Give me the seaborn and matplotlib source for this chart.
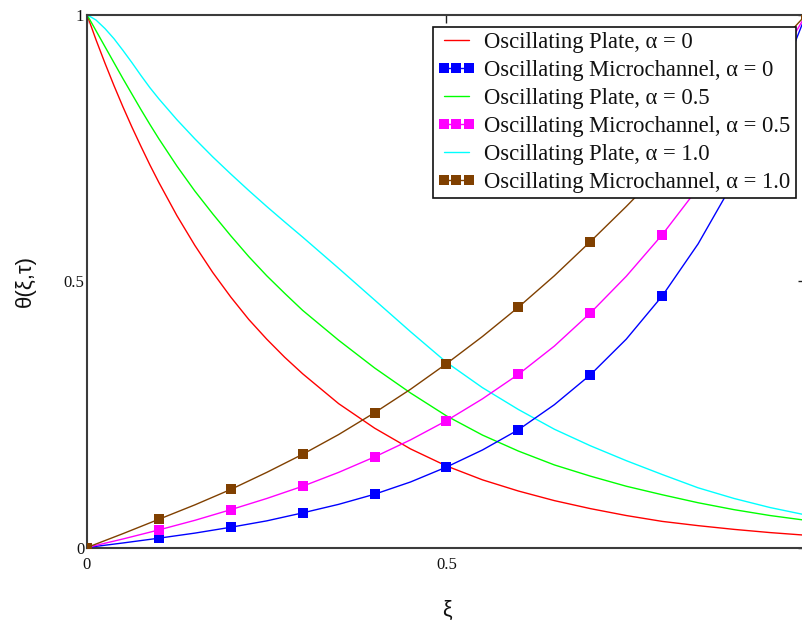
import numpy as np
import pandas as pd
import matplotlib
matplotlib.use("Agg")
import matplotlib.pyplot as plt
from matplotlib.lines import Line2D
from matplotlib.legend_handler import HandlerLine2D
import seaborn as sns

# ---------------- data ----------------
xi_plate = [0.0, 0.0125, 0.025, 0.0375, 0.05, 0.0625, 0.075, 0.0875, 0.1, 0.125,
            0.15, 0.175, 0.2, 0.225, 0.25, 0.275, 0.3, 0.35, 0.4, 0.45,
            0.5, 0.55, 0.6, 0.65, 0.7, 0.75, 0.8, 0.85, 0.9, 0.95, 1.0]
plate_a0 = [1.0, 0.953, 0.909, 0.867, 0.827, 0.789, 0.753, 0.718, 0.685, 0.623,
            0.567, 0.516, 0.470, 0.428, 0.391, 0.357, 0.326, 0.270, 0.224, 0.185,
            0.153, 0.127, 0.106, 0.088, 0.073, 0.060, 0.049, 0.041, 0.034, 0.028, 0.023]
plate_a05 = [1.0, 0.970, 0.940, 0.910, 0.880, 0.851, 0.822, 0.794, 0.767, 0.716,
             0.669, 0.626, 0.585, 0.546, 0.510, 0.477, 0.445, 0.389, 0.337, 0.290,
             0.247, 0.211, 0.181, 0.155, 0.134, 0.115, 0.099, 0.084, 0.071, 0.060, 0.051]
plate_a10 = [1.0, 0.990, 0.974, 0.955, 0.933, 0.910, 0.886, 0.863, 0.842, 0.803,
             0.767, 0.733, 0.701, 0.670, 0.640, 0.611, 0.5825, 0.524, 0.4645, 0.405,
             0.3475, 0.300, 0.259, 0.222, 0.191, 0.163, 0.137, 0.112, 0.092, 0.075, 0.061]

xi_micro = [0.0, 0.05, 0.1, 0.15, 0.2, 0.25, 0.3, 0.35, 0.4, 0.45, 0.5, 0.55,
            0.6, 0.65, 0.7, 0.75, 0.8, 0.85, 0.9, 0.95, 1.0]
micro_a0 = [0.0, 0.0085, 0.0175, 0.027, 0.038, 0.050, 0.065, 0.081, 0.100, 0.123,
            0.151, 0.183, 0.221, 0.268, 0.324, 0.391, 0.472, 0.570, 0.688, 0.830, 1.0]
micro_a05 = [0.0, 0.016, 0.033, 0.051, 0.071, 0.092, 0.115, 0.141, 0.170, 0.202,
             0.238, 0.279, 0.325, 0.378, 0.440, 0.509, 0.587, 0.675, 0.775, 0.885, 1.0]
micro_a10 = [0.0, 0.026, 0.053, 0.080, 0.109, 0.141, 0.175, 0.212, 0.253, 0.297,
             0.345, 0.396, 0.451, 0.510, 0.574, 0.640, 0.709, 0.780, 0.853, 0.927, 1.0]

labels = ["Oscillating Plate, α = 0", "Oscillating Microchannel, α = 0",
          "Oscillating Plate, α = 0.5", "Oscillating Microchannel, α = 0.5",
          "Oscillating Plate, α = 1.0", "Oscillating Microchannel, α = 1.0"]
colors = ["#ff0000", "#0000ff", "#00ff00", "#ff00ff", "#00ffff", "#804000"]
tick_vals = [0, 0.5, 1]
x_tick_labels = ["0", "0.5", ""]
y_tick_labels = ["0", "0.5", "1"]

# ---------------- figure ----------------
sns.set_style("white")
plt.rcParams['font.family'] = ['Liberation Serif', 'DejaVu Serif']

W, H = 803, 621
fig = plt.figure(figsize=(W / 100, H / 100), dpi=100)
x0, x1 = 87, 806
y_top, y_bot = 14.7, 547.5
ax = fig.add_axes([x0 / W, (H - y_bot) / H, (x1 - x0) / W, (y_bot - y_top) / H])

series = [
    (xi_plate, plate_a0, False),
    (xi_micro, micro_a0, True),
    (xi_plate, plate_a05, False),
    (xi_micro, micro_a05, True),
    (xi_plate, plate_a10, False),
    (xi_micro, micro_a10, True),
]

for (xs, ys, has_marker), lab, col in zip(series, labels, colors):
    df = pd.DataFrame({"xi": xs, "theta": ys})
    if has_marker:
        sns.lineplot(data=df, x="xi", y="theta", ax=ax, color=col, lw=1.0,
                     marker="s", markersize=7.5, markeredgewidth=0,
                     markevery=2, legend=False, zorder=3)
    else:
        sns.lineplot(data=df, x="xi", y="theta", ax=ax, color=col, lw=1.0,
                     legend=False, zorder=2)

ax.set_xlim(0, 1)
ax.set_ylim(0, 1)
ax.set_xticks(tick_vals)
ax.set_xticklabels(x_tick_labels)
ax.set_yticks(tick_vals)
ax.set_yticklabels(y_tick_labels)

spine_col = "#3c3c3c"
for s in ax.spines.values():
    s.set_visible(True)
    s.set_color(spine_col)
    s.set_linewidth(1.5)

ax.tick_params(axis="both", which="both", direction="in", length=6, width=1.0,
               color="#202020", top=True, right=True, labelsize=12,
               labelcolor="#111111")
ax.tick_params(axis="x", pad=7)
ax.tick_params(axis="y", pad=2)

ax.set_xlabel("ξ", fontsize=15.5, family=["Liberation Sans", "DejaVu Sans"],
              labelpad=19, color="#111111")
ax.set_ylabel("θ(ξ,τ)", fontsize=16, family=["Liberation Sans", "DejaVu Sans"],
              labelpad=20, color="#111111")

handles = []
for i, (lab, col) in enumerate(zip(labels, colors)):
    if i % 2 == 1:
        h = Line2D([], [], color=col, lw=1.0, marker="s", markersize=7.5,
                   markeredgewidth=0)
    else:
        h = Line2D([], [], color=col, lw=1.0)
    handles.append(h)

leg = ax.legend(handles, labels, loc="upper right",
                bbox_to_anchor=((795.7 - x0) / (x1 - x0), (y_bot - 27.3) / (y_bot - y_top)),
                borderaxespad=0, frameon=True, fancybox=False, shadow=False,
                framealpha=1, edgecolor="#111111", fontsize=16.3,
                handlelength=1.6, handletextpad=0.45,
                labelspacing=0.31, borderpad=0.22,
                handler_map={Line2D: HandlerLine2D(marker_pad=0.25, numpoints=3)})
leg.get_frame().set_linewidth(1.2)
for t in leg.get_texts():
    t.set_color("#111111")

fig.savefig("out.png", dpi=100)
